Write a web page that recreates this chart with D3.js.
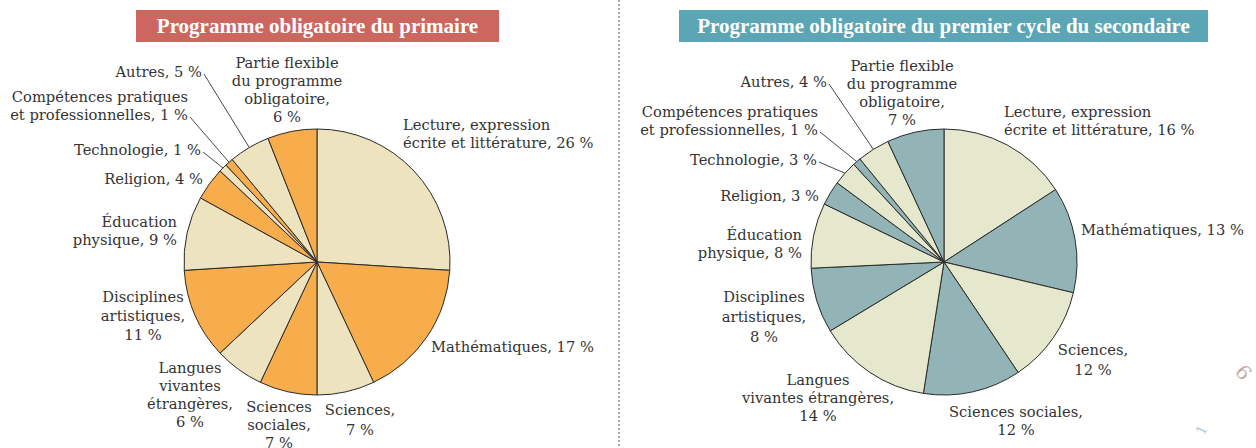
<!DOCTYPE html>
<html>
<head>
<meta charset="utf-8">
<script src="https://cdn.jsdelivr.net/npm/d3@7"></script>
<style>
  body { margin: 0; background: #fff; }
  text { font-family: "DejaVu Serif", "Liberation Serif", serif; }
  .title { font-family: "Liberation Serif", serif; }
</style>
</head>
<body>
<div id="chart-area"></div>
<script>
// Data
var categories = [
    "Lecture, expression écrite et littérature",
    "Mathématiques",
    "Sciences",
    "Sciences sociales",
    "Langues vivantes étrangères",
    "Disciplines artistiques",
    "Éducation physique",
    "Religion",
    "Technologie",
    "Compétences pratiques et professionnelles",
    "Autres",
    "Partie flexible du programme obligatoire"
];
var primaireValues   = [26, 17, 7, 7, 6, 11, 9, 4, 1, 1, 5, 6];
var secondaireValues = [16, 13, 12, 12, 14, 8, 8, 3, 3, 1, 4, 7];
var titles = ["Programme obligatoire du primaire", "Programme obligatoire du premier cycle du secondaire"];

// Label line breaks ({v} = value)
var primaireLines = [
    ["Lecture, expression", "écrite et littérature, {v} %"],
    ["Mathématiques, {v} %"],
    ["Sciences,", "{v} %"],
    ["Sciences", "sociales,", "{v} %"],
    ["Langues", "vivantes", "étrangères,", "{v} %"],
    ["Disciplines", "artistiques,", "{v} %"],
    ["Éducation", "physique, {v} %"],
    ["Religion, {v} %"],
    ["Technologie, {v} %"],
    ["Compétences pratiques", "et professionnelles, {v} %"],
    ["Autres, {v} %"],
    ["Partie flexible", "du programme", "obligatoire,", "{v} %"]
];
var secondaireLines = [
    ["Lecture, expression", "écrite et littérature, {v} %"],
    ["Mathématiques, {v} %"],
    ["Sciences,", "{v} %"],
    ["Sciences sociales,", "{v} %"],
    ["Langues", "vivantes étrangères,", "{v} %"],
    ["Disciplines", "artistiques,", "{v} %"],
    ["Éducation", "physique, {v} %"],
    ["Religion, {v} %"],
    ["Technologie, {v} %"],
    ["Compétences pratiques", "et professionnelles, {v} %"],
    ["Autres, {v} %"],
    ["Partie flexible", "du programme", "obligatoire,", "{v} %"]
];

// Layout (positions of the labels)
var charts = [
    {
        title: titles[0], values: primaireValues, lines: primaireLines,
        titleBox: [136, 499], titleColor: "#cd665f",
        colors: ["#ede3bf", "#f8ad4d"],
        cx: 317, cy: 262, r: 133,
        labels: [
            {x: 403, y: 130, a: "start"},
            {x: 431, y: 352, a: "start"},
            {x: 360, y: 415, a: "middle", lh: 20},
            {x: 279, y: 412, a: "middle"},
            {x: 190, y: 373, a: "middle"},
            {x: 143, y: 302, a: "middle", lh: 19},
            {x: 177, y: 227, a: "end"},
            {x: 203, y: 184, a: "end"},
            {x: 201, y: 155, a: "end", leader: true},
            {x: 188, y: 102, a: "end", leader: true},
            {x: 202, y: 77, a: "end", leader: true},
            {x: 287, y: 68, a: "middle"}
        ]
    },
    {
        title: titles[1], values: secondaireValues, lines: secondaireLines,
        titleBox: [679, 1208], titleColor: "#5ba5b5",
        colors: ["#e5e8cd", "#93b4b6"],
        cx: 944, cy: 262, r: 133,
        labels: [
            {x: 1004, y: 117, a: "start"},
            {x: 1081, y: 235, a: "start"},
            {x: 1093, y: 355, a: "middle", lh: 20},
            {x: 1016, y: 417, a: "middle"},
            {x: 818, y: 385, a: "middle"},
            {x: 764, y: 302, a: "middle", lh: 20},
            {x: 802, y: 240, a: "end"},
            {x: 819, y: 201, a: "end"},
            {x: 817, y: 165, a: "end", leader: true},
            {x: 818, y: 117, a: "end", leader: true},
            {x: 827, y: 87, a: "end", leader: true},
            {x: 902, y: 71, a: "middle"}
        ]
    }
];

var svg = d3.select("#chart-area").append("svg")
    .attr("width", 1256)
    .attr("height", 448);

// dotted divider
svg.append("line")
    .attr("x1", 619).attr("x2", 619)
    .attr("y1", 0).attr("y2", 448)
    .attr("stroke", "#555")
    .attr("stroke-width", 1)
    .attr("stroke-dasharray", "2,2");

var pie = d3.pie().sort(null).value(d => d);

charts.forEach(c => {
    // title
    svg.append("rect")
        .attr("x", c.titleBox[0]).attr("y", 10)
        .attr("width", c.titleBox[1] - c.titleBox[0]).attr("height", 32)
        .attr("fill", c.titleColor);
    svg.append("text")
        .attr("class", "title")
        .attr("x", (c.titleBox[0] + c.titleBox[1]) / 2)
        .attr("y", 33)
        .attr("text-anchor", "middle")
        .attr("font-size", "21px")
        .attr("font-weight", "bold")
        .attr("fill", "#fff")
        .text(c.title);

    var arcs = pie(c.values);
    var arc = d3.arc().innerRadius(0).outerRadius(c.r);
    var edge = d3.arc().innerRadius(c.r).outerRadius(c.r);

    var g = svg.append("g").attr("transform", `translate(${c.cx},${c.cy})`);

    g.selectAll("path")
        .data(arcs)
        .enter()
        .append("path")
        .attr("d", arc)
        .attr("fill", (d, i) => c.colors[i % 2])
        .attr("stroke", "#2a2a2a")
        .attr("stroke-width", 1)
        .attr("stroke-linejoin", "round");

    // labels
    arcs.forEach((d, i) => {
        var L = c.labels[i];
        var lh = L.lh || 18;
        var lines = c.lines[i].map(s => s.replace("{v}", d.data));
        var t = svg.append("text")
            .attr("text-anchor", L.a)
            .attr("font-size", "14.7px")
            .attr("fill", "#333");
        lines.forEach((s, k) => {
            t.append("tspan").attr("x", L.x).attr("y", L.y + k * lh).text(s);
        });
        if (L.leader) {
            var p = edge.centroid(d);
            var ly = L.y + (lines.length - 1) * lh - 3;
            svg.append("line")
                .attr("x1", L.x + 2).attr("y1", ly)
                .attr("x2", c.cx + p[0]).attr("y2", c.cy + p[1])
                .attr("stroke", "#333")
                .attr("stroke-width", 0.9);
        }
    });
});

// page decoration in the corner
svg.append("text")
    .attr("transform", "translate(1234,372) rotate(50)")
    .attr("font-size", "20px").attr("fill", "#c2aaa0")
    .text("6");
svg.append("text")
    .attr("transform", "translate(1204,436) rotate(-65)")
    .attr("font-size", "14px").attr("fill", "#a8cdd2")
    .text("1");
</script>
</body>
</html>
